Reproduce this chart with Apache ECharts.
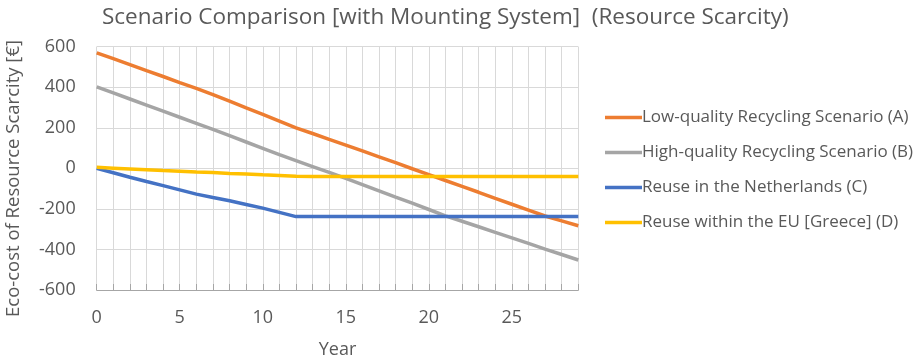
<!DOCTYPE html>
<html>
<head>
<meta charset="utf-8">
<script src="https://cdn.jsdelivr.net/npm/echarts@6/dist/echarts.min.js"></script>
<style>html,body{margin:0;padding:0;background:#fff;}#c{width:921px;height:356px;}</style>
</head>
<body>
<div id="c"></div>
<script>
const years = [0,1,2,3,4,5,6,7,8,9,10,11,12,13,14,15,16,17,18,19,20,21,22,23,24,25,26,27,28,29];
const seriesNames = [
  'Low-quality Recycling Scenario (A)',
  'High-quality Recycling Scenario (B)',
  'Reuse in the Netherlands (C)',
  'Reuse within the EU [Greece] (D)'
];
const lowQuality = [570,541,512,482,453,423,394,364,331,298,266,233,200,172,143,115,86,57,28,-2,-31,-60,-89,-118,-148,-177,-206,-235,-259,-283];
const highQuality = [402,372,342,312,282,252,222,192,161,130,99,68,38,9,-20,-49,-80,-111,-142,-172,-203,-234,-261,-288,-316,-343,-370,-398,-425,-452];
const reuseNL = [0,-22,-44,-65,-85,-106,-127,-144,-160,-178,-196,-217,-238,-238,-238,-238,-238,-238,-238,-238,-238,-238,-238,-238,-238,-238,-238,-238,-238,-238];
const reuseEU = [5,1,-3,-7,-11,-14,-18,-21,-25,-28,-32,-35,-39,-40,-40,-40,-40,-40,-40,-40,-40,-40,-40,-40,-40,-40,-40,-40,-40,-40];
const colors = ['#ED7D31','#A5A5A5','#4472C4','#FFC000'];
const allValues = [lowQuality, highQuality, reuseNL, reuseEU];

const FONT = 'Open Sans';
const TXT = '#595959';
const chart = echarts.init(document.getElementById('c'), null, {renderer:'canvas'});
chart.setOption({
  animation: false,
  textStyle: {fontFamily: FONT},
  title: {
    text: 'Scenario Comparison [with Mounting System]  (Resource Scarcity)',
    left: 97, top: 1,
    textStyle: {fontFamily: FONT, fontSize: 22.5, fontWeight: 'normal', color: TXT}
  },
  legend: {
    orient: 'vertical', left: 600, top: 104,
    icon: 'rect', itemWidth: 37, itemHeight: 3.5, itemGap: 18,
    textStyle: {fontFamily: FONT, fontSize: 17, color: TXT, padding: [0,0,0,-5]},
    data: seriesNames
  },
  grid: {left: 96.7, right: 342.7, top: 46.7, bottom: 66, containLabel: false, outerBoundsMode: 'none'},
  xAxis: [{
    type: 'value', min: 0, max: 29, interval: 1,
    name: 'Year', nameLocation: 'middle', nameGap: 51,
    nameTextStyle: {fontFamily: FONT, fontSize: 18, color: TXT},
    axisLine: {show: false}, axisTick: {show: false},
    axisLabel: {margin: 19, fontFamily: FONT, fontSize: 18, color: TXT,
      formatter: v => (v % 5 === 0 ? String(v) : '')},
    splitLine: {show: true, lineStyle: {color: '#D9D9D9', width: 1}}
  }, {
    type: 'value', min: 0, max: 29, interval: 1, position: 'bottom',
    axisLine: {show: true, onZero: true, lineStyle: {color: '#A6A6A6', width: 1}},
    axisTick: {show: true, inside: true, length: 6, lineStyle: {color: '#A6A6A6'}},
    axisLabel: {show: false}, splitLine: {show: false}
  }],
  yAxis: {
    type: 'value', min: -600, max: 600, interval: 200,
    axisLine: {show: false}, axisTick: {show: false},
    axisLabel: {margin: 21, fontFamily: FONT, fontSize: 18, color: TXT},
    splitLine: {show: true, lineStyle: {color: '#D9D9D9', width: 1}}
  },
  graphic: [{
    type: 'text', x: 14, y: 178.5, rotation: Math.PI/2,
    style: {text: 'Eco-cost of Resource Scarcity [€]', fontFamily: FONT, fontSize: 18.5,
      fill: TXT, align: 'center', verticalAlign: 'middle'}
  }],
  series: seriesNames.map((n, i) => ({
    name: n, type: 'line', xAxisIndex: 0, symbol: 'none',
    data: years.map((y, j) => [y, allValues[i][j]]),
    lineStyle: {color: colors[i], width: 3.5}, itemStyle: {color: colors[i]},
    z: 3 + (i === 3 ? 1 : 0)
  }))
});
</script>
</body>
</html>
